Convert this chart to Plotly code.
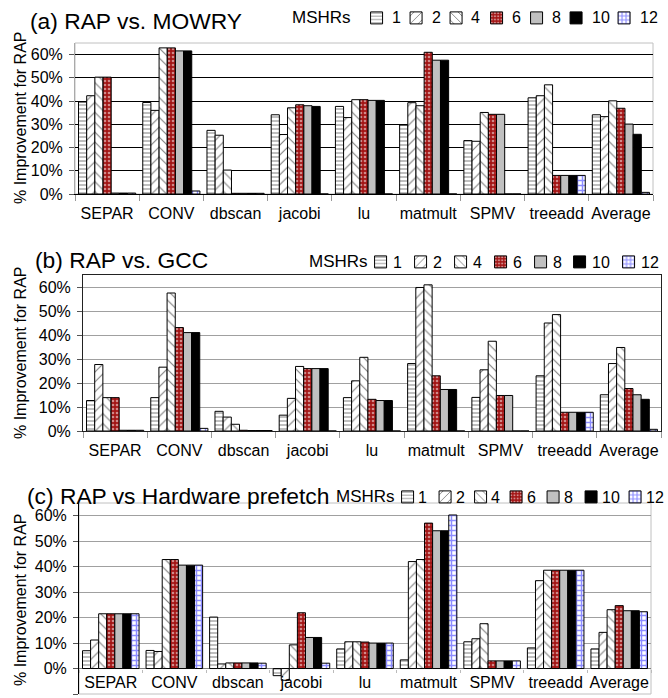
import plotly.graph_objects as go

W, H = 668, 698

categories = ["SEPAR", "CONV", "dbscan", "jacobi", "lu", "matmult", "SPMV", "treeadd", "Average"]
mshr_labels = ["1", "2", "4", "6", "8", "10", "12"]
y_tick_vals_ab = [0, 10, 20, 30, 40, 50, 60]
y_tick_text_ab = ["0%", "10%", "20%", "30%", "40%", "50%", "60%"]
y_tick_vals_c = [-10, 0, 10, 20, 30, 40, 50, 60]
y_tick_text_c = ["-10%", "0%", "10%", "20%", "30%", "40%", "50%", "60%"]

# (a) RAP vs. MOWRY  (% improvement), one list per MSHR setting
a_m1 = [39.6, 39.4, 27.4, 34.1, 37.7, 29.7, 23.0, 41.4, 34.1]
a_m2 = [42.3, 36.0, 25.3, 25.6, 32.9, 39.3, 22.7, 42.3, 33.3]
a_m4 = [50.3, 62.9, 10.3, 37.1, 40.6, 38.0, 35.1, 47.0, 40.1]
a_m6 = [50.3, 62.9, 0.3, 38.4, 40.6, 61.0, 34.3, 8.0, 36.9]
a_m8 = [0.4, 61.6, 0.3, 38.0, 40.3, 57.6, 34.3, 8.0, 30.1]
a_m10 = [0.4, 61.6, 0.3, 37.7, 40.3, 57.6, 0.0, 8.0, 25.7]
a_m12 = [0.4, 1.3, 0.3, 0.0, 0.0, 0.0, 0.0, 8.0, 0.7]

# (b) RAP vs. GCC
b_m1 = [12.7, 13.9, 8.2, 6.6, 13.9, 28.1, 14.0, 23.0, 15.1]
b_m2 = [27.7, 26.6, 5.8, 13.6, 20.9, 59.8, 25.5, 45.0, 28.1]
b_m4 = [13.9, 57.5, 2.8, 26.9, 30.7, 60.9, 37.4, 48.5, 34.8]
b_m6 = [13.9, 43.1, 0.3, 26.0, 13.2, 23.0, 14.8, 7.8, 17.7]
b_m8 = [0.3, 41.0, 0.2, 26.0, 12.7, 17.3, 14.8, 7.8, 15.1]
b_m10 = [0.3, 41.0, 0.2, 26.0, 12.7, 17.3, 0.0, 7.8, 13.2]
b_m12 = [0.3, 1.1, 0.2, 0.0, 0.0, 0.0, 0.0, 7.8, 0.7]

# (c) RAP vs Hardware prefetch
c_m1 = [7.0, 7.1, 20.2, -2.8, 7.7, 3.4, 10.5, 8.1, 7.7]
c_m2 = [11.2, 6.7, 1.8, -4.6, 10.5, 42.0, 11.7, 34.5, 14.2]
c_m4 = [21.5, 42.8, 2.2, 9.3, 10.5, 42.8, 17.6, 38.6, 23.1]
c_m6 = [21.5, 42.8, 2.2, 21.9, 10.4, 57.1, 3.0, 38.6, 24.7]
c_m8 = [21.5, 40.6, 2.2, 12.2, 10.0, 54.1, 3.0, 38.6, 22.7]
c_m10 = [21.5, 40.6, 2.2, 12.2, 10.0, 54.1, 3.0, 38.6, 22.7]
c_m12 = [21.5, 40.6, 2.1, 2.1, 10.0, 60.3, 3.0, 38.6, 22.3]

series_a = [a_m1, a_m2, a_m4, a_m6, a_m8, a_m10, a_m12]
series_b = [b_m1, b_m2, b_m4, b_m6, b_m8, b_m10, b_m12]
series_c = [c_m1, c_m2, c_m4, c_m6, c_m8, c_m10, c_m12]

styles = [
    dict(pattern=dict(shape="-", fgcolor="black", bgcolor="white", size=4, solidity=0.25)),
    dict(pattern=dict(shape="/", fgcolor="black", bgcolor="white", size=7, solidity=0.16)),
    dict(pattern=dict(shape="\\", fgcolor="black", bgcolor="white", size=7, solidity=0.16)),
    dict(pattern=dict(shape=".", fgcolor="white", bgcolor="#a31515", size=4, solidity=0.35)),
    dict(color="#c0c0c0"),
    dict(color="black"),
    dict(pattern=dict(shape="+", fgcolor="#1a1aff", bgcolor="white", size=5, solidity=0.5)),
]

FONT = "Liberation Sans, Arial, sans-serif"

# legend layout per panel (pixels): title start, centre y, first swatch, swatch pitch, indentation
legend_layout = {
    "legend": dict(title_x=295, yc=18, sw1=372, widths=[39.5, 40, 40.5, 40, 39.5, 48, 40], indent=-2),
    "legend2": dict(title_x=312, yc=262, sw1=373, widths=[40, 40, 40, 40, 39, 49, 40], indent=-15),
    "legend3": dict(title_x=339, yc=497, sw1=398, widths=[37.5, 35.5, 35.5, 37, 38, 44, 40], indent=-15),
}
LABEL_DX = 18
ITEM_GAP = 5  # plotly adds this gap after every legend entry

fig = go.Figure()
panels = [
    (series_a, "x", "y", "legend"),
    (series_b, "x2", "y2", "legend2"),
    (series_c, "x3", "y3", "legend3"),
]
for series, xa, ya, lg in panels:
    widths = legend_layout[lg]["widths"]
    for name, vals, st, w in zip(mshr_labels, series, styles, widths):
        marker = dict(line=dict(color="black", width=1))
        marker.update(st)
        fig.add_trace(go.Bar(x=categories, y=vals, name="", showlegend=True,
                             legendgroup=lg + "_" + name, xaxis=xa, yaxis=ya,
                             legend=lg, legendwidth=(w - ITEM_GAP) / W, marker=marker,
                             hoverinfo="skip"))


def px_x(p):
    return p / W


def px_y(p):
    return 1 - p / H


tickfont = dict(family=FONT, size=16, color="black")

common_x = dict(type="category", tickson="boundaries", ticks="outside", tickangle=0,
                tickfont=tickfont, showgrid=False, zeroline=False)
common_y = dict(ticks="outside", ticklen=5, tickfont=tickfont, showgrid=True, gridwidth=1,
                ticklabelstandoff=3)

fig.update_layout(
    width=W, height=H,
    margin=dict(l=0, r=0, t=0, b=0, autoexpand=False),
    paper_bgcolor="white", plot_bgcolor="white",
    barmode="group", bargap=0.11, bargroupgap=0,
    font=dict(family=FONT, size=16, color="black"),
    showlegend=True,
    xaxis=dict(domain=[px_x(75), px_x(653)], anchor="y", showline=True, linecolor="black",
               tickcolor="#999", ticklen=6, ticklabelstandoff=5, **common_x),
    yaxis=dict(domain=[px_y(194), px_y(43)], anchor="x", range=[0, 65],
               tickvals=y_tick_vals_ab, ticktext=y_tick_text_ab, zeroline=False,
               gridcolor="black", showline=True, linecolor="#aaa", tickcolor="#555", **common_y),
    xaxis2=dict(domain=[px_x(83), px_x(661)], anchor="y2", showline=True, linecolor="#222",
                mirror=True, tickcolor="#999", ticklen=6, ticklabelstandoff=5, **common_x),
    yaxis2=dict(domain=[px_y(431), px_y(275)], anchor="x2", range=[0, 65],
                tickvals=y_tick_vals_ab, ticktext=y_tick_text_ab, zeroline=False,
                gridcolor="#a0a0a0", showline=True, linecolor="#222", mirror=True,
                tickcolor="#555", **common_y),
    xaxis3=dict(domain=[px_x(79), px_x(651)], anchor="free", position=px_y(669), showline=False,
                tickcolor="#bbb", ticklen=3, ticklabelstandoff=2, **common_x),
    yaxis3=dict(domain=[px_y(694), px_y(503)], anchor="x3", range=[-10, 65],
                tickvals=y_tick_vals_c, ticktext=y_tick_text_c,
                zeroline=True, zerolinecolor="#808080", zerolinewidth=1,
                gridcolor="#a0a0a0", showline=True, linecolor="black", tickcolor="#555",
                **common_y),
)

shapes = [
    dict(type="rect", xref="x domain", yref="y domain", x0=0, x1=1, y0=0, y1=1,
         line=dict(color="#c0c0c0", width=1), layer="below"),
    dict(type="rect", xref="x3 domain", yref="y3 domain", x0=0, x1=1, y0=0, y1=1,
         line=dict(color="#c0c0c0", width=1), layer="below"),
]
fig.update_layout(shapes=shapes)

ann = []
for lg, spec in legend_layout.items():
    fig.update_layout({lg: dict(
        orientation="h", xanchor="left", yanchor="middle",
        x=px_x(spec["title_x"] - 5), y=px_y(spec["yc"]),
        bgcolor="rgba(0,0,0,0)", font=dict(family=FONT, size=16, color="black"),
        entrywidthmode="fraction", itemwidth=30, indentation=spec["indent"], tracegroupgap=0,
        title=dict(text="MSHRs", side="left", font=dict(family=FONT, size=17, color="black")))})
    sx = spec["sw1"]
    for label, w in zip(mshr_labels, spec["widths"]):
        ann.append(dict(text=label, xref="paper", yref="paper", x=px_x(sx + LABEL_DX), y=px_y(spec["yc"]),
                        xanchor="left", yanchor="middle", showarrow=False,
                        font=dict(family=FONT, size=16, color="black")))
        sx += w

titles = [
    ("(a) RAP vs. MOWRY", 28, 21),
    ("(b) RAP vs. GCC", 33, 260),
    ("(c) RAP vs Hardware prefetch", 25, 496),
]
for t, x, y in titles:
    ann.append(dict(text=t, xref="paper", yref="paper", x=px_x(x), y=px_y(y), xanchor="left",
                    yanchor="middle", showarrow=False, font=dict(family=FONT, size=22.8, color="black")))
for yc in [118, 353, 600]:
    ann.append(dict(text="% Improvement for RAP", xref="paper", yref="paper", x=px_x(20), y=px_y(yc),
                    xanchor="center", yanchor="middle", textangle=-90, showarrow=False,
                    font=dict(family=FONT, size=16, color="black")))
fig.update_layout(annotations=ann)

fig.write_html("out.html", config={"displayModeBar": False},
               post_script="document.body.style.margin='0';document.body.style.overflow='hidden';")
